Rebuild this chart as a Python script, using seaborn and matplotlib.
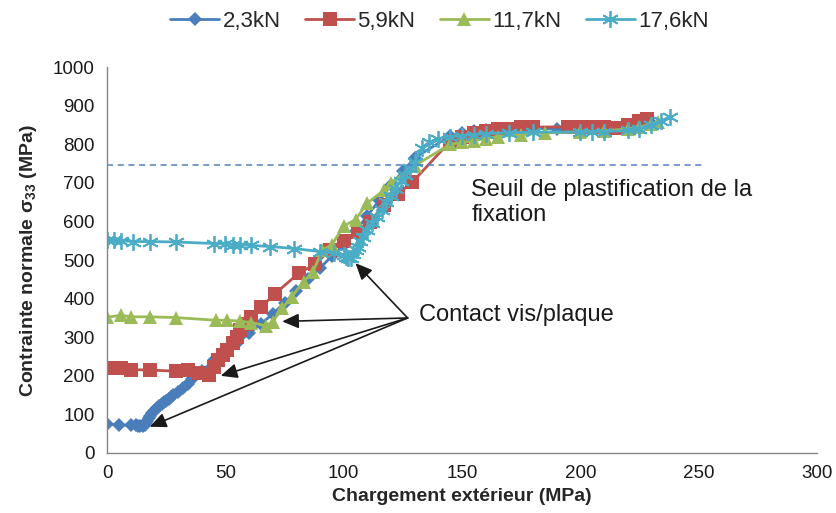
import numpy as np
import seaborn as sns
import matplotlib.pyplot as plt

# 2,3kN
x_23 = [0, 5, 10, 12, 13, 14, 15, 16, 16.5, 17, 17.5, 18, 19, 20, 21, 22, 23, 24, 25, 26,
        27, 28, 30, 32, 34, 36, 40, 45, 50, 55, 60, 65, 70, 75, 80, 85, 90, 95, 100, 105,
        110, 115, 120, 125, 130, 145, 150, 155, 160, 165, 170, 175, 180, 190, 200, 210,
        220, 225, 230]
y_23 = [75, 72, 72, 72, 71, 70, 70, 72, 78, 84, 90, 96, 104, 110, 116, 121, 126, 131, 136, 140,
        145, 150, 158, 168, 178, 192, 212, 240, 262, 285, 310, 335, 360, 390, 420, 450, 480, 510, 540, 575,
        615, 655, 695, 730, 765, 822, 830, 835, 838, 840, 840, 842, 842, 840, 838, 838,
        842, 848, 855]

# 5,9kN
x_59 = [0, 3, 6, 10, 18, 29, 34, 39, 43, 45, 47, 49, 50.5, 53, 55, 56, 59, 61, 65, 71,
        81, 88, 94, 100, 106, 111, 117, 123, 129, 145, 150, 155, 160, 165, 170, 175, 180,
        195, 200, 205, 210, 215, 220, 225, 228]
y_59 = [220, 220, 220, 216, 215, 212, 215, 207, 203, 222, 240, 254, 267, 285, 301, 318, 335, 352, 378, 413,
        466, 490, 525, 550, 572, 600, 642, 672, 702, 808, 820, 830, 835, 840, 840, 845, 845,
        845, 845, 845, 845, 842, 850, 860, 866]

# 11,7kN
x_117 = [0, 6, 10, 18, 29, 46, 50.5, 56, 61, 67, 70, 74, 78, 83, 87, 91, 95, 100, 105, 110,
         117, 120, 130, 145, 150, 155, 160, 165, 175, 185, 200, 210, 220, 225, 230, 233]
y_117 = [352, 357, 353, 353, 351, 344, 344, 342, 338, 330, 340, 375, 405, 444, 470, 526, 540, 588, 605, 648,
         681, 700, 745, 800, 805, 810, 815, 820, 825, 830, 832, 835, 840, 845, 852, 858]

# 17,6kN
x_176 = [0, 3, 6, 11, 18, 29, 45, 50, 53, 56, 61, 69, 79, 90, 96, 100, 101, 102, 103, 104,
         105, 106, 107, 108, 110, 112, 114, 116, 118, 120, 122, 124, 126, 128, 130, 133, 136,
         140, 145, 150, 155, 160, 170, 180, 200, 205, 210, 220, 225, 230, 234, 238]
y_176 = [552, 552, 550, 548, 548, 547, 543, 542, 540, 540, 538, 535, 530, 522, 518, 512, 508, 506, 505, 515,
         525, 535, 550, 560, 578, 595, 612, 630, 650, 665, 685, 705, 720, 740, 755, 790, 805,
         815, 820, 822, 825, 828, 830, 832, 832, 832, 833, 836, 840, 850, 860, 872]

series_labels = ["2,3kN", "5,9kN", "11,7kN", "17,6kN"]

seuil = 746
seuil_x = [0, 252]
contact_from = (127, 350)
contact_points = [(105, 492), (74, 341), (48, 200), (18, 68)]

sns.set_style("white")
plt.rcParams['font.family'] = ['Liberation Sans', 'DejaVu Sans']
plt.rcParams['mathtext.fontset'] = 'custom'
plt.rcParams['mathtext.rm'] = 'Liberation Sans'
plt.rcParams['mathtext.bf'] = 'Liberation Sans:bold'
plt.rcParams['mathtext.it'] = 'Liberation Sans:italic'

fig = plt.figure(figsize=(8.37, 5.13), dpi=100)
ax = fig.add_axes([0.128, 0.117, 0.848, 0.752])

styles = [
    ("#4a7ebb", "D", 7.5, 0),
    ("#c0504d", "s", 9.5, 0),
    ("#9bbb59", "^", 10.5, 0),
    ("#4bacc6", (6, 2, 0), 12, 1.3),
]
data = [(x_23, y_23), (x_59, y_59), (x_117, y_117), (x_176, y_176)]

for (xs, ys), lab, (c, m, ms, mew) in zip(data, series_labels, styles):
    sns.lineplot(x=xs, y=ys, sort=False, estimator=None, color=c, marker=m,
                 markersize=ms, markeredgecolor=c, markeredgewidth=mew,
                 linewidth=2, label=lab, ax=ax)

ax.hlines(seuil, seuil_x[0], seuil_x[1], colors="#4f81bd", linestyles=(0, (4, 3)), linewidth=1.1)

ax.text(154, 710, "Seuil de plastification de la\nfixation", fontsize=17,
        va='top', ha='left', color='#1a1a1a', linespacing=1.15)

for pt in contact_points:
    ax.annotate("", xy=pt, xytext=contact_from,
                arrowprops=dict(arrowstyle='-|>,head_length=1.0,head_width=0.45',
                                color='#1a1a1a', lw=1.2, shrinkA=0, shrinkB=0))
ax.text(132, 357, "Contact vis/plaque", fontsize=17, va='center', ha='left', color='#1a1a1a')

ax.set_xlim(0, 300)
ax.set_ylim(0, 1000)
ax.set_xticks(np.arange(0, 301, 50))
ax.set_yticks(np.arange(0, 1001, 100))
ax.tick_params(axis='both', direction='out', length=5, width=1, color='#868686',
               labelsize=13.5, labelcolor='#1a1a1a', pad=4)
for s in ['top', 'right']:
    ax.spines[s].set_visible(False)
for s in ['left', 'bottom']:
    ax.spines[s].set_color('#868686')
    ax.spines[s].set_linewidth(1)

ax.set_xlabel("Chargement extérieur (MPa)", fontsize=14, fontweight='bold', labelpad=4)
ax.set_ylabel(r"Contrainte normale σ$_\mathbf{33}$ (MPa)", fontsize=14, fontweight='bold', labelpad=10)

handles, labels = ax.get_legend_handles_labels()
if ax.get_legend() is not None:
    ax.get_legend().remove()
fig.legend(handles, labels, loc='center', bbox_to_anchor=(0.525, 0.958), ncol=4,
           frameon=False, fontsize=16, handlelength=2.2, handletextpad=0.15,
           columnspacing=1.1)

fig.savefig("out.png", dpi=100)
